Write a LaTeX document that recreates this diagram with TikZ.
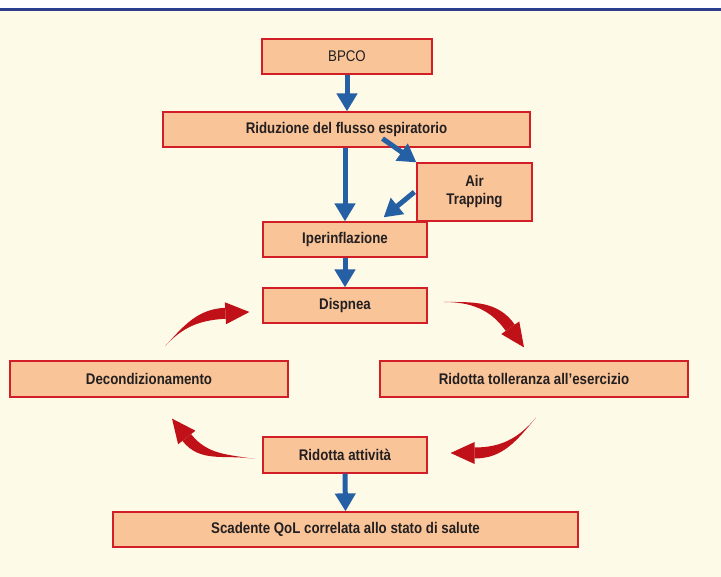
\documentclass[tikz,border=0pt]{standalone}
\usepackage{fontspec}
\setmainfont{Liberation Sans}[FakeStretch=0.86]
\usepackage{tikz}
\usetikzlibrary{arrows.meta,calc}
\definecolor{bpcofill}{RGB}{249,196,152}
\definecolor{bpcoborder}{RGB}{210,30,38}
\definecolor{bpcocream}{RGB}{254,250,232}
\definecolor{bpconavy}{RGB}{44,62,140}
\definecolor{flowblue}{RGB}{38,96,164}
\definecolor{cyclered}{RGB}{192,16,24}
\definecolor{textgray}{RGB}{35,31,32}

% tapered curved arrow: tail, tail angle, tip, tip direction
\newcommand{\swoosh}[4]{%
  \pgfmathsetmacro{\swback}{#4+180}
  \pgfmathsetmacro{\swleft}{#4+90}
  \pgfmathsetmacro{\swright}{#4-90}
  \coordinate (swb) at ($(#3)+(\swback:24)$);
  \fill[cyclered] (#1) to[out=#2,in=\swback] ($(swb)+(\swleft:5.5)$) -- ($(swb)+(\swright:5.5)$) to[out=\swback,in=#2] (#1);
  \fill[cyclered] ($(swb)+(\swleft:11)$) -- (#3) -- ($(swb)+(\swright:11)$) -- cycle;
}

\begin{document}
\begin{tikzpicture}[
    x=1bp, y=1bp,
    every node/.style={align=center, font=\fontsize{15.5}{18}\selectfont\bfseries, text=textgray},
    box/.style={rectangle, draw=bpcoborder, line width=1.2bp, fill=bpcofill, inner sep=0pt, minimum height=35bp},
    flow/.style={draw=flowblue, line width=5bp, -{Triangle[width=20bp,length=18bp]}}
]

% background and top rule
\fill[bpcocream] (0,0) rectangle (721,566);
\fill[bpconavy] (0,566) rectangle (721,568.5);
\useasboundingbox (0,0) rectangle (721,577);

% main chain
\node[box, minimum width=170bp, font=\fontsize{15.5}{18}\selectfont\mdseries] (bpco) at (347,520.5) {BPCO};
\node[box, minimum width=367bp] (ridu) at (346.5,447.5) {Riduzione del flusso espiratorio};
\node[box, minimum width=164bp] (iper) at (345,337.5) {Iperinflazione};
\node[box, minimum width=115bp, minimum height=58bp] (air) at (474.5,385) {Air\\Trapping};
\node[box, minimum width=164bp] (dispnea) at (345,271.5) {Dispnea};

% vicious circle
\node[box, minimum width=278bp, minimum height=36bp] (decond) at (149,198) {Decondizionamento};
\node[box, minimum width=308bp, minimum height=36bp] (toller) at (534,198) {Ridotta tolleranza all’esercizio};
\node[box, minimum width=164bp, minimum height=36bp] (attiv) at (345,122) {Ridotta attività};

% outcome
\node[box, minimum width=465bp] (scad) at (345.5,47.5) {Scadente QoL correlata allo stato di salute};

% blue flow
\draw[flow] (bpco.south) -- (ridu.north -| bpco.south);
\draw[flow] (ridu.south -| iper.north) -- (iper.north);
\draw[flow] ($(ridu.south)+(36,9)$) -- (air.north west);
\draw[flow] ($(air.west)+(-2,0)$) -- ($(iper.north east)+(-44,4)$);
\draw[flow] (iper.south) -- (dispnea.north);
\draw[flow] (attiv.south) -- (scad.north);

% red cycle arrows
\coordinate (a1s) at ($(decond.north)+(16,14)$);
\coordinate (a1t) at ($(dispnea.west)+(-13,-6.5)$);
\coordinate (a2s) at ($(dispnea.east)+(16,3.5)$);
\coordinate (a2t) at ($(toller.north)+(-10,13)$);
\coordinate (a3s) at ($(toller.south)+(2,-20)$);
\coordinate (a3t) at ($(attiv.east)+(23,2)$);
\coordinate (a4s) at ($(attiv.west)+(-8,-4)$);
\coordinate (a4t) at ($(decond.south)+(23,-21)$);
\swoosh{a1s}{48}{a1t}{3}
\swoosh{a2s}{0}{a2t}{-55}
\swoosh{a3s}{230}{a3t}{180}
\swoosh{a4s}{170}{a4t}{128}

\end{tikzpicture}
\end{document}
